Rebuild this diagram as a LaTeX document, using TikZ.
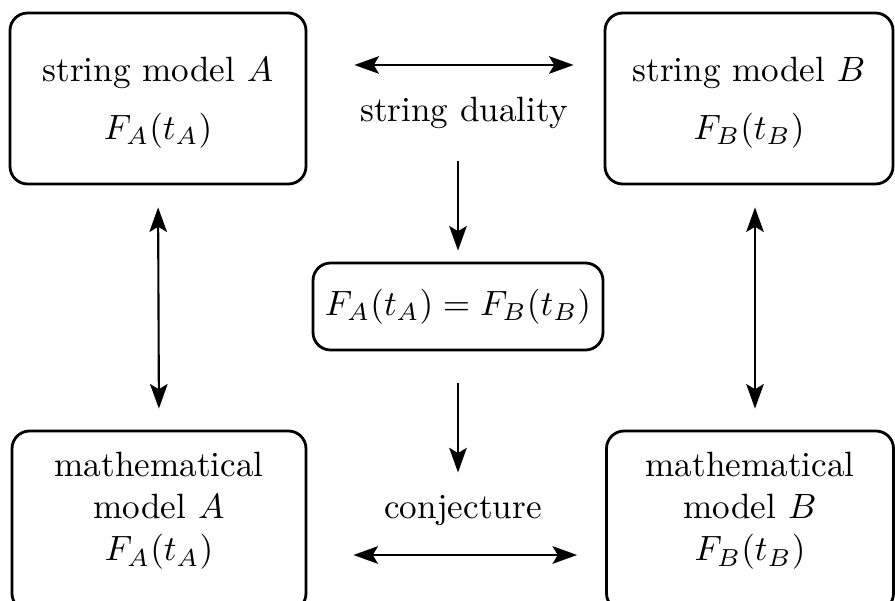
\documentclass[tikz,border=0pt]{standalone}
\usetikzlibrary{arrows.meta}
\tikzset{
    model/.style={rectangle, draw, thick, rounded corners=5pt, minimum height=1.71cm, align=center},
    result/.style={rectangle, draw, thick, rounded corners=5pt, minimum width=2.9cm, minimum height=0.87cm, inner xsep=1pt},
    note/.style={align=center},
    link/.style={semithick, {Stealth[length=7pt, width=5pt, inset=1.5pt]}-{Stealth[length=7pt, width=5pt, inset=1.5pt]}},
    flow/.style={semithick, -{Stealth[length=7pt, width=5pt, inset=1.5pt]}}
}

\begin{document}
\begin{tikzpicture}
    \clip (0,0) rectangle (8.95,-6.01);

    % the four models
    \node[model, minimum width=2.96cm] (strA) at (1.58,-0.985) {\rule{0pt}{0.33cm}string model $A$\\[4.5pt] $F_A(t_A)$};
    \node[model, minimum width=2.88cm] (strB) at (7.49,-0.985) {\rule{0pt}{0.33cm}string model $B$\\[4.5pt] $F_B(t_B)$};
    \node[model, minimum width=2.94cm, minimum height=1.8cm] (mathA) at (1.59,-5.21) {mathematical\\ model $A$\\ $F_A(t_A)$\rule[-0.29cm]{0pt}{0pt}};
    \node[model, minimum width=2.87cm, minimum height=1.8cm] (mathB) at (7.50,-5.21) {mathematical\\ model $B$\\ $F_B(t_B)$\rule[-0.29cm]{0pt}{0pt}};

    \node[result] (equal) at (4.58,-3.065) {$F_A(t_A) = F_B(t_B)$};
    \node[note] (duality) at (4.64,-1.13) {string duality};
    \node[note] (conj) at (4.63,-5.11) {conjecture};

    \draw[link, shorten <=0.47cm, shorten >=0.30cm] ([yshift=0.335cm]strA.east) -- ([yshift=0.335cm]strB.west);
    \draw[link, shorten <=0.46cm, shorten >=0.28cm] ([yshift=-0.34cm]mathA.east) -- ([yshift=-0.34cm]mathB.west);
    \draw[link, shorten <=0.22cm, shorten >=0.21cm] (strA.south) -- (mathA.north);
    \draw[link, shorten <=0.22cm, shorten >=0.21cm] ([xshift=0.06cm]strB.south) -- ([xshift=0.05cm]mathB.north);

    \draw[flow, shorten <=0.2cm, shorten >=0.11cm] (duality.south -| equal.north) -- (equal.north);
    \draw[flow, shorten <=0.32cm, shorten >=0.11cm] (equal.south) -- (conj.north -| equal.south);
\end{tikzpicture}
\end{document}
